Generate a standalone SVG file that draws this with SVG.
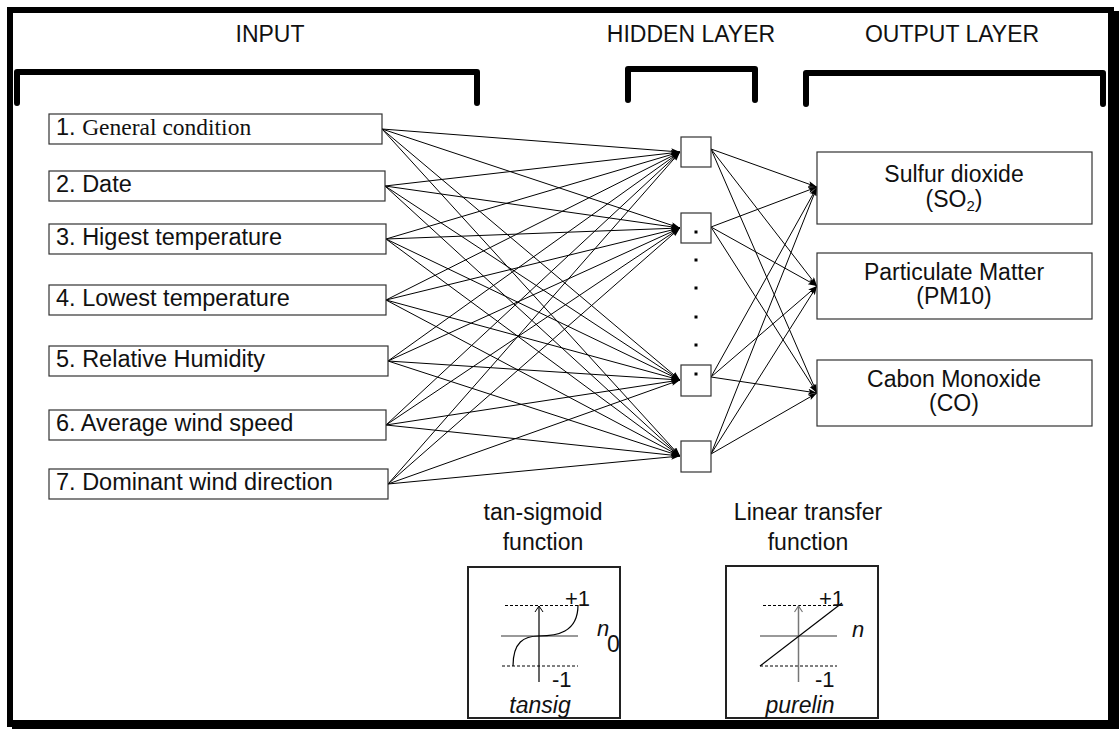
<svg xmlns="http://www.w3.org/2000/svg" width="1119" height="729" viewBox="0 0 1119 729">
<style>
text{font-family:"Liberation Sans",Arial,sans-serif;font-size:23px;fill:#111}
.t{text-anchor:middle}
.in{font-size:23.5px}
.br{fill:none;stroke:#000;stroke-width:6;stroke-linecap:round;stroke-linejoin:round}
.box{fill:#fff;stroke:#333;stroke-width:1.2}
.fbox{fill:#fff;stroke:#222;stroke-width:2}
.c line{stroke:#000;stroke-width:1;marker-end:url(#ah)}
.dash{stroke:#000;stroke-width:1;stroke-dasharray:3 2}
.gray{stroke:#777;stroke-width:1.5}
.sm{font-size:22px}
.it{font-style:italic}
</style>
<defs>
<marker id="ah" markerUnits="userSpaceOnUse" markerWidth="10" markerHeight="8" refX="9" refY="3" orient="auto">
<path d="M0,0 L9,3 L0,6 L2,3 Z" fill="#000"/>
</marker>
</defs>
<rect width="1119" height="729" fill="#fff"/>
<g id="frame" fill="#000">
<rect x="7" y="7" width="1107" height="6"/>
<rect x="7" y="7" width="6" height="720"/>
<rect x="1108" y="11" width="11" height="718"/>
<rect x="12" y="720" width="1107" height="9"/>
</g>
<g id="titles">
<text class="t" x="270" y="42">INPUT</text>
<text class="t" x="691" y="42">HIDDEN LAYER</text>
<text class="t" x="952" y="42">OUTPUT LAYER</text>
<path class="br" d="M17,103 V72 H477 V103"/>
<path class="br" d="M628,100 V69 H755 V100"/>
<path class="br" d="M806,104 V73 H1103 V104"/>
</g>
<g class="c" id="connectors">
<line x1="382" y1="129" x2="680" y2="152"/><line x1="382" y1="129" x2="680" y2="228"/><line x1="382" y1="129" x2="680" y2="380"/><line x1="382" y1="129" x2="680" y2="456"/>
<line x1="385" y1="186" x2="680" y2="152"/><line x1="385" y1="186" x2="680" y2="228"/><line x1="385" y1="186" x2="680" y2="380"/><line x1="385" y1="186" x2="680" y2="456"/>
<line x1="386" y1="239" x2="680" y2="152"/><line x1="386" y1="239" x2="680" y2="228"/><line x1="386" y1="239" x2="680" y2="380"/><line x1="386" y1="239" x2="680" y2="456"/>
<line x1="386" y1="300" x2="680" y2="152"/><line x1="386" y1="300" x2="680" y2="228"/><line x1="386" y1="300" x2="680" y2="380"/><line x1="386" y1="300" x2="680" y2="456"/>
<line x1="388" y1="361" x2="680" y2="152"/><line x1="388" y1="361" x2="680" y2="228"/><line x1="388" y1="361" x2="680" y2="380"/><line x1="388" y1="361" x2="680" y2="456"/>
<line x1="386" y1="425" x2="680" y2="152"/><line x1="386" y1="425" x2="680" y2="228"/><line x1="386" y1="425" x2="680" y2="380"/><line x1="386" y1="425" x2="680" y2="456"/>
<line x1="388" y1="484" x2="680" y2="152"/><line x1="388" y1="484" x2="680" y2="228"/><line x1="388" y1="484" x2="680" y2="380"/><line x1="388" y1="484" x2="680" y2="456"/>
<line x1="711" y1="149" x2="817" y2="187"/><line x1="711" y1="149" x2="817" y2="286"/><line x1="711" y1="149" x2="817" y2="393"/>
<line x1="711" y1="227" x2="817" y2="187"/><line x1="711" y1="227" x2="817" y2="286"/><line x1="711" y1="227" x2="817" y2="393"/>
<line x1="711" y1="377" x2="817" y2="187"/><line x1="711" y1="377" x2="817" y2="286"/><line x1="711" y1="377" x2="817" y2="393"/>
<line x1="711" y1="454" x2="817" y2="187"/><line x1="711" y1="454" x2="817" y2="286"/><line x1="711" y1="454" x2="817" y2="393"/>
</g>
<g id="in1"><rect class="box" x="49" y="114" width="333" height="30"/><text class="in" x="56" y="135">1. <tspan font-family="Liberation Serif, 'Times New Roman', serif">General condition</tspan></text></g>
<g id="in2"><rect class="box" x="49" y="171" width="336" height="30"/><text class="in" x="56" y="192">2. Date</text></g>
<g id="in3"><rect class="box" x="49" y="224" width="337" height="30"/><text class="in" x="56" y="245">3. Higest temperature</text></g>
<g id="in4"><rect class="box" x="49" y="285" width="337" height="30"/><text class="in" x="56" y="306">4. Lowest temperature</text></g>
<g id="in5"><rect class="box" x="49" y="346" width="339" height="30"/><text class="in" x="56" y="367">5. Relative Humidity</text></g>
<g id="in6"><rect class="box" x="49" y="410" width="337" height="30"/><text class="in" x="56" y="431">6. Average wind speed</text></g>
<g id="in7"><rect class="box" x="49" y="469" width="339" height="30"/><text class="in" x="56" y="490">7. Dominant wind direction</text></g>
<g id="h1"><rect class="box" x="681" y="137" width="30" height="30"/></g>
<g id="h2"><rect class="box" x="681" y="213" width="30" height="30"/><rect x="694.5" y="230.5" width="3" height="3" fill="#000"/></g>
<g id="hdots" fill="#000">
<rect x="694.5" y="258.5" width="3" height="3"/><rect x="694.5" y="286.5" width="3" height="3"/><rect x="694.5" y="315.5" width="3" height="3"/><rect x="694.5" y="343.5" width="3" height="3"/>
</g>
<g id="h3"><rect class="box" x="681" y="365" width="30" height="31"/><rect x="694.5" y="372.5" width="3" height="3" fill="#000"/></g>
<g id="h4"><rect class="box" x="681" y="441" width="30" height="31"/></g>
<g id="o1"><rect class="box" x="817" y="152" width="275" height="72"/><text class="t" x="954" y="182">Sulfur dioxide</text><text class="t" x="954" y="207">(SO<tspan font-size="15" dy="4">2</tspan><tspan dy="-4">)</tspan></text></g>
<g id="o2"><rect class="box" x="817" y="253" width="275" height="66"/><text class="t" x="954" y="280">Particulate Matter</text><text class="t" x="954" y="304">(PM10)</text></g>
<g id="o3"><rect class="box" x="817" y="360" width="275" height="66"/><text class="t" x="954" y="387">Cabon Monoxide</text><text class="t" x="954" y="411">(CO)</text></g>
<g id="tansig">
<text class="t" x="543" y="520">tan-sigmoid</text>
<text class="t" x="543" y="550">function</text>
<rect class="fbox" x="468" y="567" width="152" height="151"/>
<line class="dash" x1="505" y1="605.5" x2="578" y2="605.5"/>
<line class="dash" x1="502" y1="666" x2="578" y2="666"/>
<line class="gray" x1="501" y1="636" x2="578" y2="636"/>
<line x1="539" y1="606" x2="539" y2="682" stroke="#000" stroke-width="1.2"/>
<path d="M535,612 L539,606 L543,612" fill="none" stroke="#000" stroke-width="1"/>
<path d="M513,666 C513,642 524,636 539,636 C556,636 578,633 578,605" fill="none" stroke="#000" stroke-width="1.2"/>
<text class="sm" x="565" y="606">+1</text>
<text class="sm" x="552" y="687">-1</text>
<text class="sm it" x="597" y="636">n</text>
<text x="607" y="652" font-size="27">0</text>
<text class="it" x="540" y="713" text-anchor="middle">tansig</text>
</g>
<g id="purelin">
<text class="t" x="808" y="520">Linear transfer</text>
<text class="t" x="808" y="550">function</text>
<rect class="fbox" x="726" y="566" width="152" height="152"/>
<line class="dash" x1="763" y1="605.5" x2="840" y2="605.5"/>
<line class="dash" x1="760" y1="666" x2="837" y2="666"/>
<line class="gray" x1="760" y1="636" x2="837" y2="636"/>
<line class="gray" x1="798.5" y1="606" x2="798.5" y2="682"/>
<path d="M794.5,612 L798.5,606 L802.5,612" fill="none" stroke="#777" stroke-width="1.2"/>
<line x1="760" y1="666" x2="842" y2="603" stroke="#000" stroke-width="1.2"/>
<text class="sm" x="819" y="606">+1</text>
<text class="sm" x="815" y="687">-1</text>
<text class="sm it" x="852" y="637">n</text>
<text class="it" x="800" y="713" text-anchor="middle">purelin</text>
</g>
</svg>
